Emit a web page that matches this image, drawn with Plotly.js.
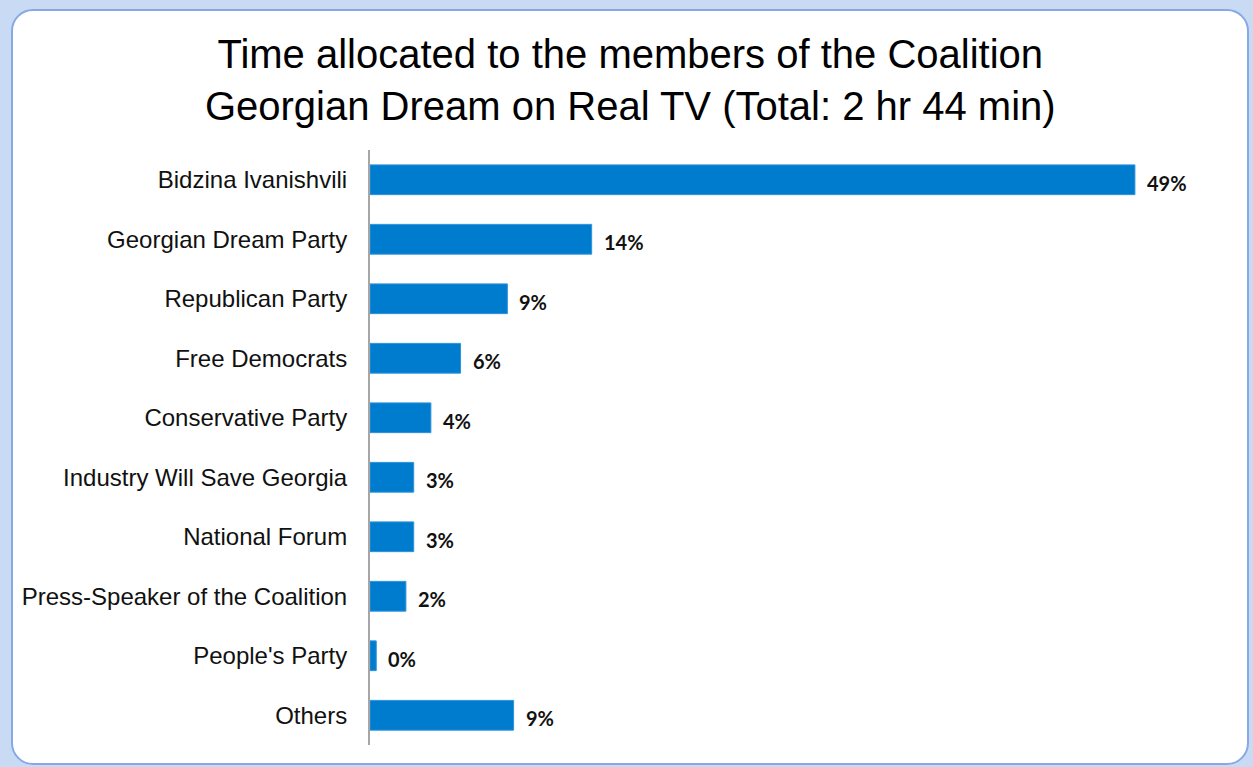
<!DOCTYPE html>
<html>
<head>
<meta charset="utf-8">
<script src="https://cdn.plot.ly/plotly-3.0.1.min.js"></script>
<style>
  html, body { margin:0; padding:0; width:1253px; height:767px; overflow:hidden; background:#c8daf4; }
  #frame { position:absolute; left:11px; top:9px; width:1234px; height:752px; background:#ffffff;
           border:2px solid #86a9e4; border-radius:22px; }
  #chart { position:absolute; left:0; top:0; width:1253px; height:767px; }
</style>
</head>
<body>
<div id="frame"></div>
<div id="chart"></div>
<script>
const categories = ["Bidzina Ivanishvili", "Georgian Dream Party", "Republican Party", "Free Democrats",
  "Conservative Party", "Industry Will Save Georgia", "National Forum", "Press-Speaker of the Coalition",
  "People's Party", "Others"];
const shares = [49, 14.2, 8.8, 5.8, 3.9, 2.8, 2.8, 2.3, 0.4, 9.2];
const shareLabels = ["49%", "14%", "9%", "6%", "4%", "3%", "3%", "2%", "0%", "9%"];

const trace = {
  type: 'bar', orientation: 'h',
  x: shares, y: categories,
  width: 0.5,
  marker: { color: '#007ccf', line: { color: '#2e92db', width: 1 } },
  hoverinfo: 'none'
};

const annotations = categories.map((c, i) => ({
  x: shares[i], y: c, xref: 'x', yref: 'y',
  text: shareLabels[i], showarrow: false, xanchor: 'left', yanchor: 'middle',
  xshift: 10, yshift: -3,
  font: { family: 'Lato, "Open Sans", sans-serif', size: 20, color: '#111111', weight: 'bold' }
}));

const layout = {
  width: 1253, height: 767,
  paper_bgcolor: 'rgba(0,0,0,0)', plot_bgcolor: 'rgba(0,0,0,0)',
  margin: { l: 370, r: 33, t: 150, b: 22 },
  showlegend: false,
  title: {
    text: 'Time allocated to the members of the Coalition<br>Georgian Dream on Real TV (Total: 2 hr 44 min)',
    font: { family: '"Liberation Sans", Arial, sans-serif', size: 40, color: '#000000' },
    x: 0.503, xref: 'container', xanchor: 'center',
    y: 1 - 68/767, yref: 'container', yanchor: 'top'
  },
  xaxis: { range: [0, 54.45], showgrid: false, zeroline: false, showline: false, showticklabels: false, ticks: '', fixedrange: true },
  yaxis: {
    autorange: 'reversed', showgrid: false, zeroline: false,
    showline: true, linecolor: '#a6a6a6', linewidth: 2,
    ticks: '', ticklabelstandoff: 16,
    tickfont: { family: '"Liberation Sans", Arial, sans-serif', size: 24, color: '#111111' },
    fixedrange: true
  },
  annotations: annotations
};

Plotly.newPlot('chart', [trace], layout, { displayModeBar: false, staticPlot: true });
</script>
</body>
</html>
